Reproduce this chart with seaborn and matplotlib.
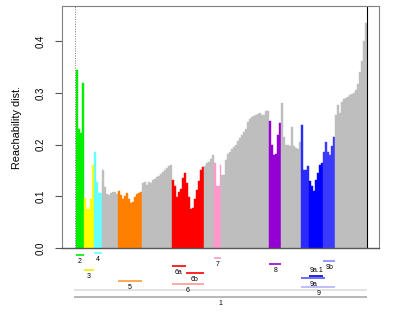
import numpy as np
import pandas as pd
import matplotlib
matplotlib.use("Agg")
import matplotlib.pyplot as plt
import matplotlib.transforms as mtransforms
import seaborn as sb

plt.rcParams['font.family'] = ['Liberation Sans', 'DejaVu Sans']

# reachability distance of each point in OPTICS order (first point is undefined)
reach = [np.inf,
         0.345, 0.231, 0.222, 0.319,
         0.097, 0.076, 0.076, 0.095, 0.160,
         0.185, 0.128, 0.106, 0.106,
         0.150, 0.118, 0.104, 0.103, 0.107, 0.108, 0.108, 0.104,
         0.110, 0.102, 0.095, 0.100, 0.106, 0.095, 0.087, 0.088, 0.098, 0.104, 0.106, 0.108,
         0.126, 0.128, 0.122, 0.127, 0.126, 0.131, 0.133, 0.137, 0.139, 0.143, 0.147, 0.151,
         0.155, 0.159, 0.161,
         0.131, 0.120, 0.099, 0.108, 0.115, 0.135, 0.145,
         0.125, 0.099, 0.075, 0.077, 0.095, 0.112, 0.130, 0.151, 0.157,
         0.159, 0.164, 0.167, 0.172, 0.180,
         0.165, 0.120, 0.120, 0.160,
         0.141, 0.141, 0.170, 0.182, 0.186, 0.191, 0.195, 0.200, 0.207, 0.213, 0.218, 0.224,
         0.230, 0.243, 0.249, 0.253, 0.255, 0.257, 0.259, 0.261, 0.257, 0.258, 0.264, 0.265,
         0.245, 0.200, 0.180, 0.182, 0.218, 0.242,
         0.280, 0.215, 0.199, 0.199, 0.198, 0.234, 0.197, 0.194, 0.192, 0.205,
         0.238, 0.151, 0.151, 0.158, 0.130, 0.120, 0.111, 0.131, 0.145, 0.161, 0.165, 0.186,
         0.205, 0.186, 0.180, 0.197, 0.215,
         0.257, 0.277, 0.262, 0.282, 0.289, 0.290, 0.292, 0.295, 0.298, 0.300, 0.305, 0.318,
         0.340, 0.362, 0.400, 0.435]

# extracted clusters: name, first and last point (parents before children)
cl_name = ["1", "", "2", "3", "4", "5", "6", "6a", "6b", "7", "8", "9", "9a", "9a.1", "9b"]
cl_start = [0, 0, 1, 5, 10, 22, 49, 49, 56, 70, 98, 114, 114, 118, 125]
cl_end = [146, 146, 4, 9, 13, 33, 64, 55, 64, 73, 103, 130, 125, 124, 130]

yticks = [0.0, 0.1, 0.2, 0.3, 0.4]

# colours of the bars and of the cluster lines
bar_col = {"2": "#00ee00", "3": "#ffff00", "4": "#66ffff", "5": "#ff8000",
           "6": "#ff0000", "6a": "#ff0000", "6b": "#ff0000", "7": "#ff99cc",
           "8": "#9400d3", "9": "#2a2aff", "9a": "#2a2aff", "9a.1": "#0000ff",
           "9b": "#3a3aff"}
line_col = {"1": "#aaaaaa", "": "#dddddd", "2": "#00ee00", "3": "#eeee00",
            "4": "#66ffff", "5": "#ff9933", "6": "#ff9999", "6a": "#ff0000",
            "6b": "#ff0000", "7": "#ff99cc", "8": "#9400d3", "9": "#b3b3ff",
            "9a": "#5555ff", "9a.1": "#0000cc", "9b": "#8888ff"}
# row of each cluster line, pixels below the plot + label offset
row_px = {"4": 4.7, "2": 7, "7": 10.3, "9b": 13, "8": 16, "6a": 18.3, "3": 21.7,
          "6b": 25, "9a.1": 27.7, "9a": 30.3, "5": 33.3, "6": 36, "9": 39.3,
          "": 42, "1": 49}
lab_off = {"9a.1": -5}

n = len(reach)
idx = np.arange(n)
heights = np.where(np.isinf(reach), 0, reach)
colors = ["#bebebe"] * n
for name, s, e in zip(cl_name, cl_start, cl_end):
    if name in bar_col:
        for i in range(s, e + 1):
            colors[i] = bar_col[name]

df = pd.DataFrame({"pt": idx, "reach": heights})

fig = plt.figure(figsize=(4.15, 3.12), dpi=100)
ax = fig.add_axes([62 / 415, 64 / 312, 317 / 415, 242 / 312])
sb.barplot(data=df, x="pt", y="reach", hue="pt", palette=dict(zip(idx, colors)),
           legend=False, width=1, linewidth=0, saturation=1, errorbar=None, ax=ax)
# close the hairline gaps between neighbouring bars
for p in ax.patches:
    p.set_edgecolor(p.get_facecolor())
    p.set_linewidth(0.3)

pad = 0.04 * n
ax.set_xlim(-0.5 - pad, n - 0.5 + pad)
ax.set_ylim(0, 0.468)
ax.set_xticks([])
ax.set_xlabel("")

# undefined reachability drawn as dotted line, end of ordering as solid line
for i in idx[np.isinf(reach)]:
    ax.axvline(i, color="#777777", ls=(0, (1, 1.5)), lw=0.7)
ax.axvline(n - 0.5, color="black", lw=0.8)

ax.set_yticks(yticks)
ax.tick_params(axis="y", length=5, width=0.8, color="#555555", labelsize=7,
               pad=7, labelrotation=90)
for lab in ax.get_yticklabels():
    lab.set_va("center")
ax.set_ylabel("Reachability dist.", fontsize=7.8)
ax.yaxis.set_label_coords(-0.142, 0.5)
ax.yaxis.label.set_va("center")

for sp in ax.spines.values():
    sp.set_color("#808080")
    sp.set_linewidth(0.8)
ax.spines["bottom"].set_color("#555555")
ax.spines["bottom"].set_linewidth(1.0)

# cluster hierarchy below the plot
trans = mtransforms.blended_transform_factory(ax.transData, ax.transAxes)
for name, s, e in zip(cl_name, cl_start, cl_end):
    y = -row_px[name] / 242
    ax.plot([s - 0.5, e + 0.5], [y, y], color=line_col[name], lw=1.2,
            transform=trans, clip_on=False, solid_capstyle="butt")
    if name:
        ly = -(row_px[name] + lab_off.get(name, 6.5)) / 242
        ax.text((s + e) / 2, ly, name, transform=trans, ha="center", va="center",
                fontsize=5)

fig.savefig("out.png", dpi=100)
